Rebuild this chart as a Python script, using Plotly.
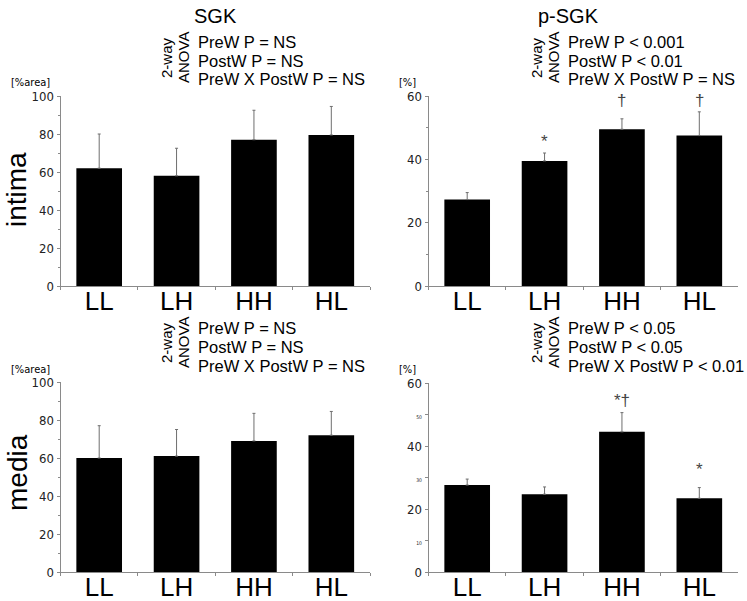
import plotly.graph_objects as go

categories = ["LL", "LH", "HH", "HL"]

sgk_intima = [62, 58, 77, 79.5]
sgk_intima_err = [18, 14.5, 15.5, 15]
psgk_intima = [27.3, 39.5, 49.5, 47.5]
psgk_intima_err = [2.2, 2.5, 3.3, 7.5]
sgk_media = [60, 61, 69, 72]
sgk_media_err = [17, 14, 14.5, 12.5]
psgk_media = [27.6, 24.7, 44.5, 23.4]
psgk_media_err = [1.9, 2.3, 6.1, 3.4]

anova_sgk_intima = ["PreW P = NS", "PostW P = NS", "PreW X PostW P = NS"]
anova_psgk_intima = ["PreW P < 0.001", "PostW P < 0.01", "PreW X PostW P = NS"]
anova_sgk_media = ["PreW P = NS", "PostW P = NS", "PreW X PostW P = NS"]
anova_psgk_media = ["PreW P < 0.05", "PostW P < 0.05", "PreW X PostW P < 0.01"]

W, H = 747, 601
TXT = "Liberation Sans, Arial, sans-serif"
NARROW = "Liberation Sans Narrow, Arial Narrow, DejaVu Sans Condensed, Roboto Condensed, Liberation Sans, sans-serif"
AXC = "#8a8a8a"

def px_x(p):
    return p / W

def px_y(p):
    return 1 - p / H

panels = [
    # (values, errs, xaxis, yaxis, xdomain px, ydomain px, ymax)
    (sgk_intima, sgk_intima_err, "x", "y", (60.5, 370), (96, 286), 100),
    (psgk_intima, psgk_intima_err, "x2", "y2", (428.5, 738), (96, 286), 60),
    (sgk_media, sgk_media_err, "x3", "y3", (60.5, 370), (382, 572), 100),
    (psgk_media, psgk_media_err, "x4", "y4", (428.5, 738), (383, 572), 60),
]

fig = go.Figure()
layout = {}
for i, (vals, errs, xa, ya, xd, yd, ymax) in enumerate(panels):
    fig.add_trace(go.Bar(
        x=categories, y=vals, xaxis=xa, yaxis=ya, width=0.59,
        marker=dict(color="black", line=dict(width=0)),
        error_y=dict(type="data", symmetric=False, array=errs,
                     arrayminus=[0] * len(errs), color="#6f6f6f",
                     thickness=1, width=1.5),
        showlegend=False, hoverinfo="skip",
    ))
    n = "" if i == 0 else str(i + 1)
    layout["xaxis" + n] = dict(
        domain=[px_x(xd[0]), px_x(xd[1])], anchor=ya, range=[-0.5, 3.5],
        showline=True, linecolor=AXC, linewidth=1, ticks="outside",
        tickson="boundaries", ticklen=3, tickcolor=AXC, showgrid=False,
        tickfont=dict(family=TXT, size=26, color="black"),
        ticklabelstandoff=-8, automargin=False,
        zeroline=False, fixedrange=True,
    )
    if ymax == 100:
        tv = [0, 20, 40, 60, 80, 100]
        tt = [str(v) for v in tv]
    else:
        if i == 3:
            tv = [0, 10, 20, 30, 40, 50, 60]
            tt = [str(v) if v % 20 == 0 else
                  "<span style='font-size:5px'>%d</span>" % v for v in tv]
        else:
            tv = [0, 20, 40, 60]
            tt = [str(v) for v in tv]
    layout["yaxis" + n] = dict(
        domain=[px_y(yd[1]), px_y(yd[0])], anchor=xa, range=[0, ymax],
        showline=True, linecolor=AXC, linewidth=1, ticks="outside",
        ticklen=3, tickcolor=AXC, showgrid=False, zeroline=False,
        tickvals=tv, ticktext=tt, automargin=False,
        tickfont=dict(family=NARROW, size=13, color="#222"),
        minor=dict(dtick=10, ticks="outside", ticklen=2, tickcolor=AXC),
        fixedrange=True,
    )

ann = []

def add_text(x, y, text, size, font=TXT, angle=0, xanchor="center", color="black"):
    ann.append(dict(x=px_x(x), y=px_y(y), xref="paper", yref="paper",
                    text=text, showarrow=False, textangle=angle,
                    xanchor=xanchor, yanchor="middle",
                    font=dict(family=font, size=size, color=color)))

add_text(215, 16, "SGK", 20)
add_text(568, 16, "p-SGK", 20)

for (lines, x0, ys, rot_y) in [
    (anova_sgk_intima, 196, (42, 61, 79), 58),
    (anova_psgk_intima, 566, (42, 61, 79), 58),
    (anova_sgk_media, 196, (328, 347, 366), 343),
    (anova_psgk_media, 566, (328, 347, 366), 343),
]:
    for t, yy in zip(lines, ys):
        add_text(x0, yy, t, 16.5, xanchor="left")
    add_text(x0 - 30, rot_y, "2-way", 15, angle=-90)
    add_text(x0 - 13, rot_y, "ANOVA", 15, angle=-90)

add_text(30, 82, "[%area]", 11, font=NARROW)
add_text(30, 369, "[%area]", 11, font=NARROW)
add_text(407, 82, "[%]", 11, font=NARROW)
add_text(407, 369, "[%]", 11, font=NARROW)

add_text(17, 190, "intima", 28, angle=-90)
add_text(17, 473, "media", 28, angle=-90)

# significance marks (panel axes, category, y in data units, text)
marks = [
    ("x2", "y2", "LH", 45.5, "*"),
    ("x2", "y2", "HH", 58.5, "†"),
    ("x2", "y2", "HL", 58.5, "†"),
    ("x4", "y4", "HH", 54.6, "*†"),
    ("x4", "y4", "HL", 32.7, "*"),
]
for xa, ya, c, yv, t in marks:
    ann.append(dict(x=c, y=yv, xref=xa, yref=ya, text=t, showarrow=False,
                    font=dict(family=TXT, size=17, color="#444")))

fig.update_layout(
    width=W, height=H, margin=dict(l=0, r=0, t=0, b=0, autoexpand=False),
    paper_bgcolor="white", plot_bgcolor="white",
    annotations=ann, bargap=0.41, **layout,
)

fig.write_html("out.html", config={"displayModeBar": False},
               post_script="document.body.style.margin='0';document.body.style.overflow='hidden';")
